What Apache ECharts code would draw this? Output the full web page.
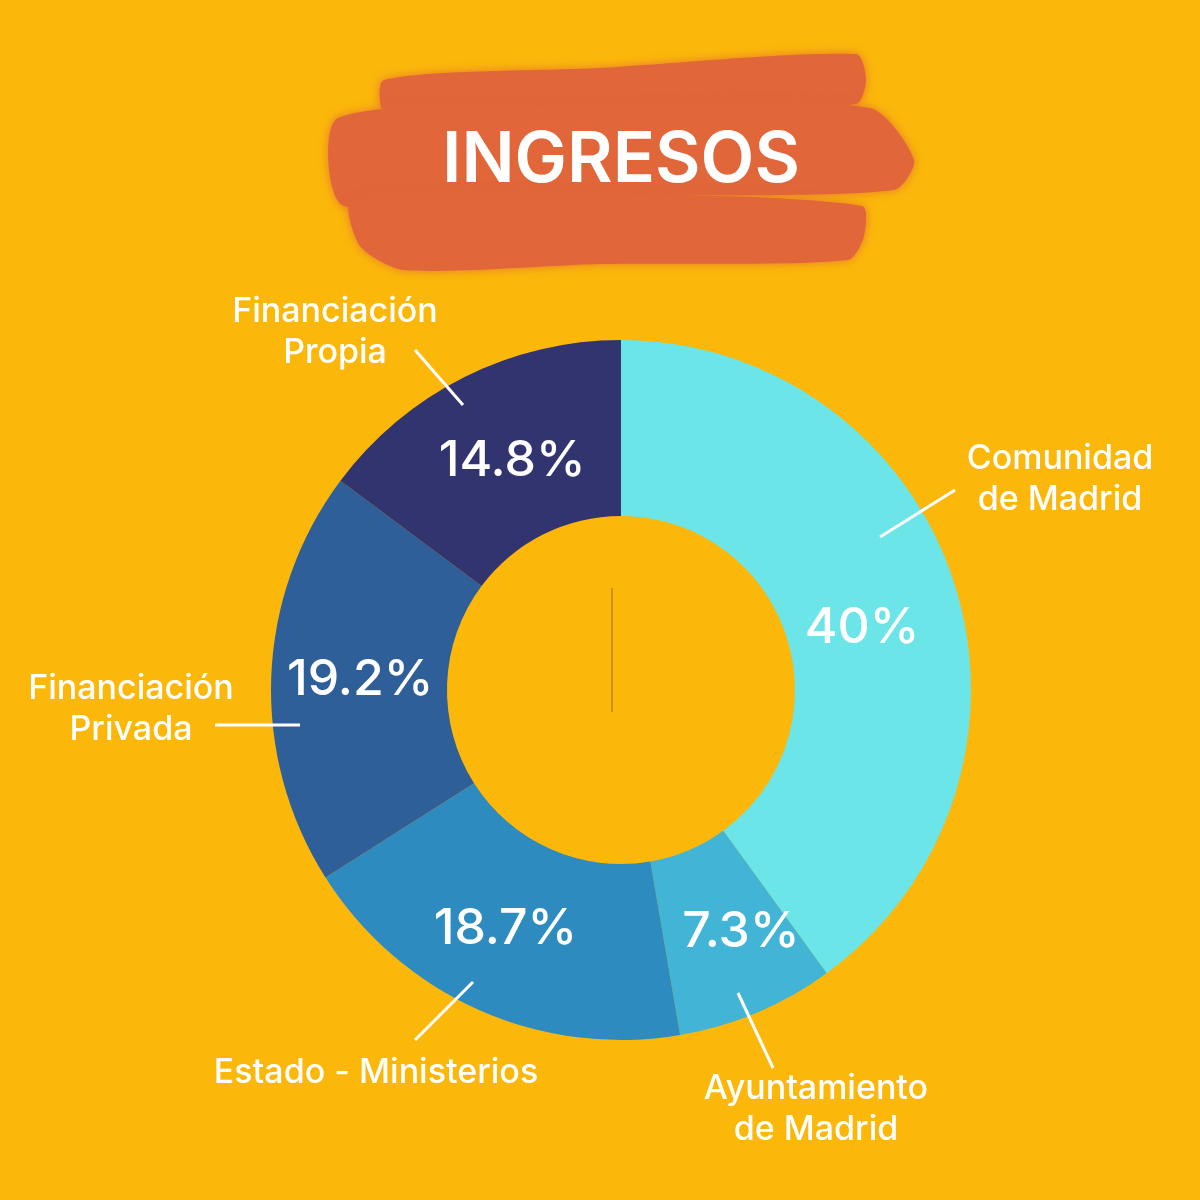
<!DOCTYPE html>
<html>
<head>
<meta charset="utf-8">
<title>Ingresos</title>
<script src="https://cdn.jsdelivr.net/npm/echarts@6/dist/echarts.min.js"></script>
<style>
  html, body { margin: 0; padding: 0; background: #fbb80a; }
  #chart { width: 1200px; height: 1200px; }
</style>
</head>
<body>
<div id="chart"></div>
<script>
var categories = ['Comunidad\nde Madrid', 'Ayuntamiento\nde Madrid', 'Estado - Ministerios', 'Financiación\nPrivada', 'Financiación\nPropia'];
var shares = [40, 7.3, 18.7, 19.2, 14.8];
var sliceColors = ['#6be5e8', '#42b4d6', '#2d8bc0', '#2f5f98', '#31346f'];

// where each name label sits, and its leader line (start inside the ring -> end)
var labelSpots = [
    { x: 1060, y: 479, line: [[880, 537], [955, 490]] },
    { x: 816, y: 1109, line: [[738, 993], [773, 1068]] },
    { x: 376, y: 1073, line: [[473, 982], [415, 1040]] },
    { x: 131, y: 709, line: [[300, 725], [215, 725]] },
    { x: 335, y: 332, line: [[463, 405], [415, 350]] }
];
// small nudges of the % labels off the ring's mid radius
var pctNudge = [[-11, 20], [17, -2], [-8, -3], [4, 0], [10, 8]];

var FONT = 'Inter, "Noto Sans", sans-serif';
var BRUSH = '#e1663a';

var ringData = categories.map(function (name, i) {
    return { name: name, value: shares[i], itemStyle: { color: sliceColors[i] } };
});
var nameData = categories.map(function (name, i) {
    return { name: name, value: shares[i] };
});

function brush(points) {
    return {
        type: 'polygon', z: -1,
        shape: { points: points, smooth: 0.25 },
        style: { fill: BRUSH, shadowBlur: 10, shadowColor: 'rgba(225,102,58,0.8)' }
    };
}

var chart = echarts.init(document.getElementById('chart'));

chart.setOption({
    backgroundColor: '#fbb80a',
    animation: false,
    title: {
        text: 'INGRESOS',
        left: 616,
        top: 121,
        textAlign: 'center',
        textStyle: { color: '#ffffff', fontSize: 70, fontWeight: 600, fontFamily: FONT }
    },
    graphic: [
        // brush stroke behind the title
        brush([[384, 80], [600, 68], [856, 54], [866, 80], [856, 104], [620, 112], [388, 118]]),
        brush([[338, 118], [600, 106], [870, 108], [914, 160], [894, 190], [620, 196], [344, 206]]),
        brush([[352, 200], [620, 194], [862, 206], [864, 236], [848, 260], [600, 264], [404, 270], [360, 246]]),
        {
            type: 'line', z: 10,
            shape: { x1: 612, y1: 588, x2: 612, y2: 712 },
            style: { stroke: 'rgba(90,60,20,0.6)', lineWidth: 1 }
        }
    ],
    series: [
        {
            type: 'pie',
            center: [621, 690],
            radius: [174, 350],
            startAngle: 90,
            clockwise: true,
            silent: true,
            z: 2,
            data: ringData,
            label: {
                show: true,
                position: 'inside',
                formatter: '{c}%',
                color: '#ffffff',
                fontSize: 50,
                fontWeight: 500,
                fontFamily: FONT
            },
            labelLine: { show: false },
            labelLayout: function (params) {
                var n = pctNudge[params.dataIndex];
                return { dx: n[0], dy: n[1] };
            }
        },
        {
            type: 'pie',
            center: [621, 690],
            radius: [0, 325],
            startAngle: 90,
            clockwise: true,
            silent: true,
            z: 5,
            data: nameData,
            itemStyle: { color: 'rgba(0,0,0,0)', borderWidth: 0 },
            label: {
                show: true,
                position: 'outside',
                formatter: '{b}',
                color: '#ffffff',
                fontSize: 34,
                fontWeight: 500,
                lineHeight: 41,
                align: 'center',
                fontFamily: FONT
            },
            labelLine: {
                show: true,
                length: 60,
                length2: 0,
                lineStyle: { color: '#ffffff', width: 3 }
            },
            labelLayout: function (params) {
                var s = labelSpots[params.dataIndex];
                return {
                    x: s.x,
                    y: s.y,
                    align: 'center',
                    verticalAlign: 'middle',
                    labelLinePoints: [s.line[0], s.line[1], s.line[1]]
                };
            }
        }
    ]
});
</script>
</body>
</html>
